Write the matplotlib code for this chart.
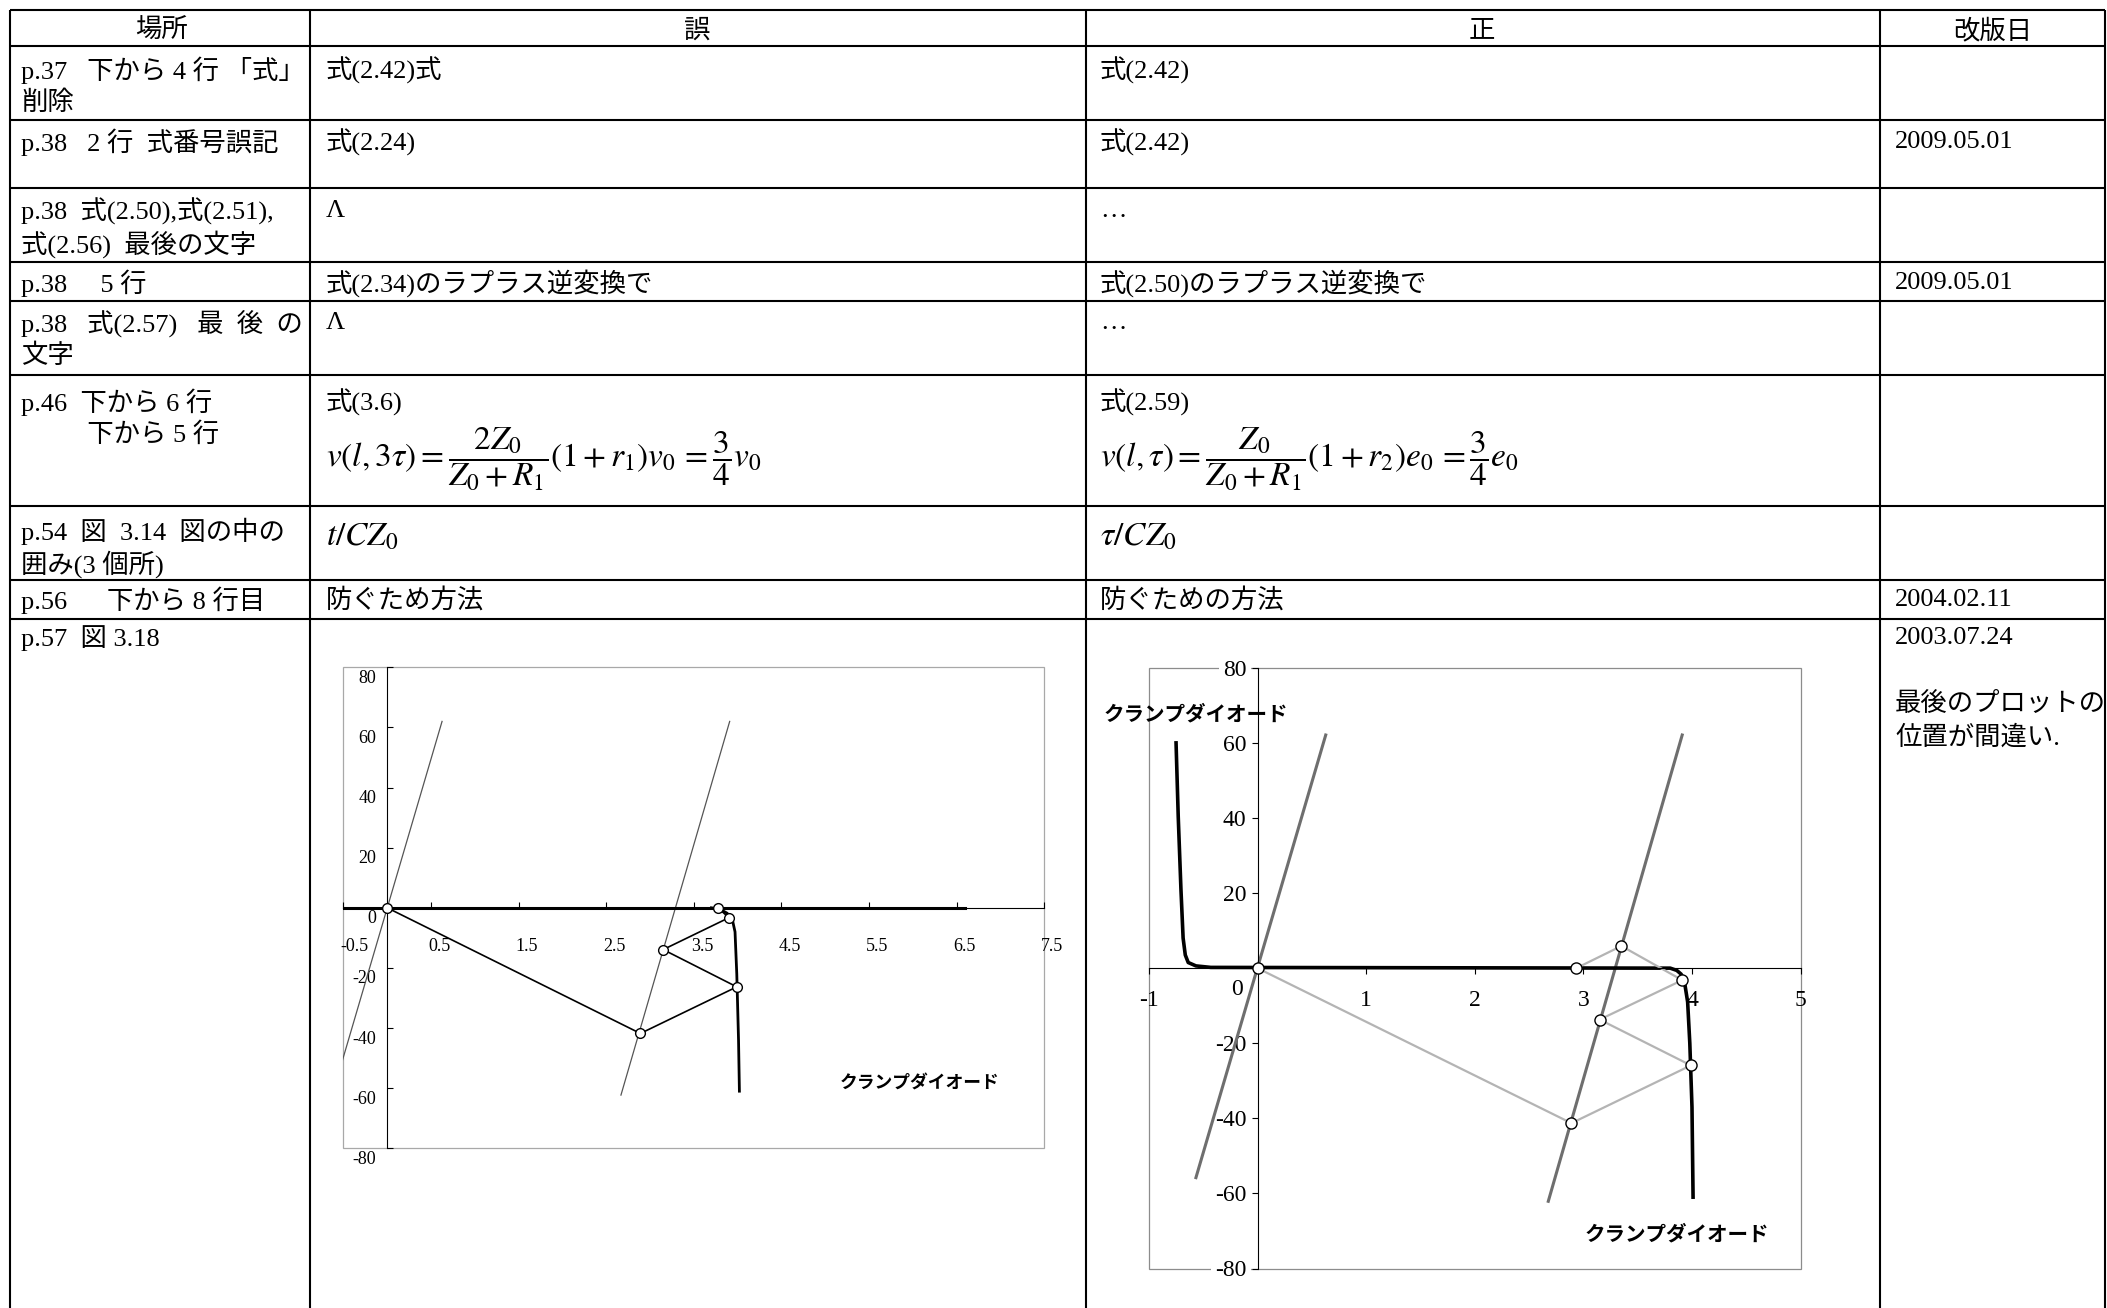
import matplotlib.pyplot as plt
from matplotlib.patches import Rectangle
from matplotlib.transforms import ScaledTranslation

plt.rcParams['mathtext.fontset'] = 'stix'

W, H = 2107, 1308
SERIF = ['Liberation Serif', 'Noto Sans CJK JP']
GOTHIC = ['Noto Sans CJK JP', 'DejaVu Sans']

# ---- table text ----
headers = ['場所', '誤', '正', '改版日']
place = [
    'p.37   下から 4 行 「式」\n削除',
    'p.38   2 行  式番号誤記',
    'p.38  式(2.50),式(2.51),\n式(2.56)  最後の文字',
    'p.38     5 行',
    'p.38   式(2.57)   最  後  の\n文字',
    'p.46  下から 6 行\n          下から 5 行',
    'p.54  図  3.14  図の中の\n囲み(3 個所)',
    'p.56      下から 8 行目',
    'p.57  図 3.18',
]
wrong = ['式(2.42)式', '式(2.24)', 'Λ', '式(2.34)のラプラス逆変換で', 'Λ',
         '式(3.6)', '', '防ぐため方法', '']
correct = ['式(2.42)', '式(2.42)', '…', '式(2.50)のラプラス逆変換で', '…',
           '式(2.59)', '', '防ぐための方法', '']
dates = ['', '2009.05.01', '', '2009.05.01', '', '', '', '2004.02.11',
         '2003.07.24\n\n最後のプロットの\n位置が間違い.']

eq_wrong = r'$v\left(l,3\tau\right)=\dfrac{2Z_0}{Z_0+R_1}\left(1+r_1\right)v_0\,=\dfrac{3}{4}v_0$'
eq_correct = r'$v\left(l,\tau\right)=\dfrac{Z_0}{Z_0+R_1}\left(1+r_2\right)e_0\,=\dfrac{3}{4}e_0$'
frac_wrong = r'$t/CZ_0$'
frac_correct = r'$\tau/CZ_0$'

diode_label = 'クランプダイオード'

# ---- chart in the "誤" column ----
l_xticks = [-0.5, 0.5, 1.5, 2.5, 3.5, 4.5, 5.5, 6.5, 7.5]
l_xlabels = ['-0.5', '0.5', '1.5', '2.5', '3.5', '4.5', '5.5', '6.5', '7.5']
l_yticks = [80, 60, 40, 20, 0, -20, -40, -60, -80]
l_ylabels = ['80', '60', '40', '20', '0', '-20', '-40', '-60', '-80']
l_load1_x = [-0.56, 0.626]
l_load1_y = [-55.6, 62.0]
l_load2_x = [2.668, 3.909]
l_load2_y = [-62.3, 62.0]
l_base_x = [-0.5, 6.6]
l_base_y = [0, 0]
l_diode_x = [3.70, 3.80, 3.88, 3.94, 3.97, 3.99, 4.01, 4.02]
l_diode_y = [0, -0.5, -1.8, -4.0, -8.0, -22, -44, -61]
l_path_x = [0, 2.89, 3.99, 3.15, 3.90, 3.775]
l_path_y = [0, -41.8, -26.3, -13.9, -3.3, 0]

# ---- chart in the "正" column ----
r_xticks = [-1, 1, 2, 3, 4, 5]
r_xlabels = ['-1', '1', '2', '3', '4', '5']
r_yticks = [80, 60, 40, 20, 0, -20, -40, -60, -80]
r_ylabels = ['80', '60', '40', '20', '0', '-20', '-40', '-60', '-80']
r_load1_x = [-0.567, 0.628]
r_load1_y = [-55.8, 62.1]
r_load2_x = [2.677, 3.91]
r_load2_y = [-62.1, 62.1]
r_diode_x = [-0.75, -0.73, -0.705, -0.685, -0.665, -0.638, -0.567, -0.43,
             3.80, 3.86, 3.90, 3.93, 3.96, 3.98, 4.00, 4.01]
r_diode_y = [60, 40.4, 21, 8, 3.5, 1.5, 0.6, 0.2,
             0, -0.6, -1.6, -3.5, -9, -20, -37, -61]
r_path_x = [0, 2.89, 3.99, 3.15, 3.91, 3.35, 2.935]
r_path_y = [0, -41.3, -25.9, -13.7, -3.2, 5.9, 0]

# ---- layout (pixels) ----
col_x = [10, 310, 1086, 1880, 2105]
row_y = [10, 46, 120, 188, 262, 301, 375, 506, 580, 619]
text_x = [21, 326, 1100, 1895]
head_cx = [161, 697, 1482, 1993]
head_y = 31
row_first = [70, 142, 211, 283, 323, 402, 531, 600, 638]
gap = 33
FS = 19

fig = plt.figure(figsize=(W / 100, H / 100), dpi=100)
tab = fig.add_axes([0, 0, 1, 1])
tab.set_xlim(0, W)
tab.set_ylim(H, 0)
tab.axis('off')

tab.vlines(col_x, row_y[0], H, color='black', lw=1.5)
tab.hlines(row_y, col_x[0], col_x[-1], color='black', lw=1.5)

for cx, h in zip(head_cx, headers):
    tab.text(cx, head_y, h, ha='center', va='center', fontsize=FS, family=SERIF)

for i in range(len(place)):
    for c, col in enumerate([place, wrong, correct, dates]):
        for k, line in enumerate(col[i].split('\n')):
            if line:
                tab.text(text_x[c], row_first[i] + k * gap, line, ha='left',
                         va='center', fontsize=FS, family=SERIF)

tab.text(text_x[1], 459, eq_wrong, ha='left', va='center', fontsize=24)
tab.text(text_x[2], 459, eq_correct, ha='left', va='center', fontsize=24)
tab.text(text_x[1], 536, frac_wrong, ha='left', va='center', fontsize=24)
tab.text(text_x[2], 536, frac_correct, ha='left', va='center', fontsize=24)


def px_rect(l, t, r, b):
    return [l / W, 1 - b / H, (r - l) / W, (b - t) / H]


def setup(ax, frame_color):
    ax.set_facecolor('none')
    for s in ['top', 'right']:
        ax.spines[s].set_visible(False)
    for s in ['left', 'bottom']:
        ax.spines[s].set_position(('data', 0))
        ax.spines[s].set_color('black')
        ax.spines[s].set_linewidth(0.8)
    ax.add_patch(Rectangle((0, 0), 1, 1, transform=ax.transAxes, fill=False,
                           ec=frame_color, lw=0.9, clip_on=False, zorder=0))


def shift(lab, dx, dy):
    lab.set_transform(lab.get_transform() +
                      ScaledTranslation(dx / 100, dy / 100, fig.dpi_scale_trans))


# left chart
axL = fig.add_axes(px_rect(343.4, 667.3, 1044.3, 1148.3))
axL.set_xlim(-0.5, 7.5)
axL.set_ylim(-80, 80)
setup(axL, '#a8a8a8')
axL.set_xticks(l_xticks)
axL.set_xticklabels(l_xlabels)
axL.set_yticks(l_yticks)
axL.set_yticklabels(l_ylabels)
axL.tick_params(axis='x', direction='in', length=4, width=0.8, pad=22, labelsize=13)
axL.tick_params(axis='y', direction='in', length=4, width=0.8, pad=8, labelsize=13)
for lab in axL.get_xticklabels() + axL.get_yticklabels():
    lab.set_fontfamily(SERIF)
for lab in axL.get_xticklabels():
    lab.set_horizontalalignment('left')
    shift(lab, -3, 0)
for lab in axL.get_yticklabels():
    shift(lab, 0, -9)

axL.plot(l_load1_x, l_load1_y, color='#555555', lw=0.9)
axL.plot(l_load2_x, l_load2_y, color='#555555', lw=0.9)
axL.plot(l_base_x, l_base_y, color='black', lw=2.2)
axL.plot(l_diode_x, l_diode_y, color='black', lw=2.0)
axL.plot(l_path_x, l_path_y, color='black', lw=1.2)
axL.plot(l_path_x, l_path_y, 'o', ms=7, mfc='white', mec='black', mew=1, zorder=5)
axL.text(6.08, -58.6, diode_label, ha='center', va='center', fontsize=12.8,
         weight='bold', family=GOTHIC)

# right chart
axR = fig.add_axes(px_rect(1148.9, 667.8, 1800.6, 1268.5))
axR.set_xlim(-1, 5)
axR.set_ylim(-80, 80)
setup(axR, '#8c8c8c')
axR.set_xticks(r_xticks)
axR.set_xticklabels(r_xlabels)
axR.set_yticks(r_yticks)
axR.set_yticklabels(r_ylabels)
axR.tick_params(axis='x', direction='out', length=4, width=0.8, pad=12, labelsize=17)
axR.tick_params(axis='y', direction='out', length=4, width=0.8, pad=4, labelsize=17)
for lab in axR.get_xticklabels() + axR.get_yticklabels():
    lab.set_fontfamily(SERIF)
for lab in axR.get_yticklabels():
    lab.set_bbox(dict(facecolor='white', edgecolor='none', pad=3))
    if lab.get_text() == '0':
        shift(lab, -4, -19)

axR.plot(r_load1_x, r_load1_y, color='#6e6e6e', lw=2.2)
axR.plot(r_load2_x, r_load2_y, color='#6e6e6e', lw=2.2)
axR.plot(r_diode_x, r_diode_y, color='black', lw=2.6)
axR.plot(r_path_x, r_path_y, color='#b4b4b4', lw=1.6)
axR.plot(r_path_x, r_path_y, 'o', ms=8, mfc='white', mec='black', mew=1, zorder=5)
axR.text(-0.566, 67.8, diode_label, ha='center', va='center', fontsize=14.8,
         weight='bold', family=GOTHIC)
axR.text(3.862, -70.7, diode_label, ha='center', va='center', fontsize=14.8,
         weight='bold', family=GOTHIC)

fig.savefig('out.png', dpi=100)
